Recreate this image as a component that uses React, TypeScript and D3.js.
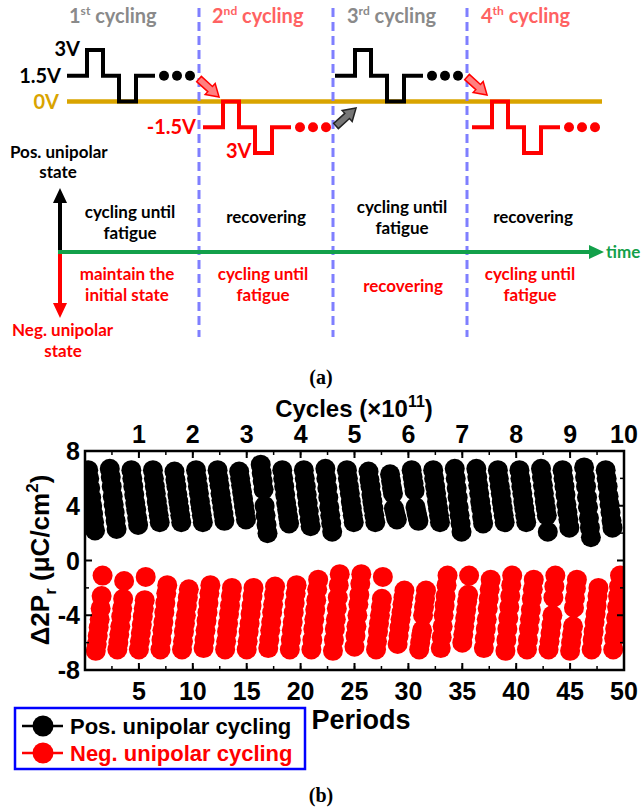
import React from 'react';
import * as d3 from 'd3';

// ---- chart (b) data ----
const periodTicks = [5, 10, 15, 20, 25, 30, 35, 40, 45, 50];
const cycleTicks = [1, 2, 3, 4, 5, 6, 7, 8, 9, 10];
const yTicks = [8, 4, 0, -4, -8];

// pos. unipolar cycling happens in odd periods, neg. in even periods
const posPeriods = [1, 3, 5, 7, 9, 11, 13, 15, 17, 19, 21, 23, 25, 27, 29, 31, 33, 35, 37, 39, 41, 43, 45, 47, 49];
const negPeriods = [2, 4, 6, 8, 10, 12, 14, 16, 18, 20, 22, 24, 26, 28, 30, 32, 34, 36, 38, 40, 42, 44, 46, 48, 50];

// where inside the period each measurement sits (fraction of a period)
const posOffsets = [0.3, 0.39, 0.48, 0.57, 0.66, 0.75, 0.84, 0.93];
const negOffsets = [-1.0, -0.91, -0.82, -0.73, -0.64, -0.55, -0.46, -0.37];

// top -> bottom (fatigue)
const posValues = [
  [6.6, 6.0, 5.3, 4.6, 4.0, 3.4, 2.8, 2.2],
  [6.7, 6.1, 5.4, 4.7, 4.1, 3.5, 2.9, 2.3],
  [6.6, 6.0, 5.4, 4.8, 4.2, 3.7, 3.1, 2.6],
  [6.6, 6.0, 5.4, 4.9, 4.3, 3.8, 3.3, 2.8],
  [6.5, 5.9, 5.4, 4.8, 4.3, 3.8, 3.3, 2.8],
  [6.6, 6.0, 5.4, 4.9, 4.3, 3.8, 3.3, 2.8],
  [6.6, 6.0, 5.5, 4.9, 4.4, 3.9, 3.4, 2.9],
  [6.5, 6.0, 5.5, 5.0, 4.5, 4.0, 3.5, 3.0],
  [7.0, 6.4, 5.8, 5.2, 4.0, 3.3, 2.6, 2.0],
  [6.6, 6.0, 5.4, 4.8, 4.2, 3.7, 3.2, 2.7],
  [6.6, 6.0, 5.4, 4.8, 4.2, 3.6, 3.0, 2.5],
  [6.7, 6.0, 5.3, 4.6, 3.9, 3.3, 2.7, 2.1],
  [6.6, 6.0, 5.4, 4.9, 4.3, 3.8, 3.3, 2.8],
  [6.5, 5.9, 5.4, 4.8, 4.3, 3.8, 3.3, 2.8],
  [6.3, 5.8, 5.3, 4.9, 3.8, 3.5, 3.2, 3.0],
  [6.6, 6.1, 5.6, 5.1, 3.9, 3.5, 3.2, 2.9],
  [6.6, 6.0, 5.4, 4.9, 4.3, 3.8, 3.3, 2.8],
  [6.7, 6.0, 5.3, 4.6, 3.9, 3.3, 2.7, 2.1],
  [6.7, 6.1, 5.5, 4.9, 4.3, 3.8, 3.2, 2.7],
  [6.6, 6.0, 5.4, 4.9, 4.3, 3.8, 3.3, 2.8],
  [6.6, 6.0, 5.4, 4.9, 4.3, 3.8, 3.3, 2.8],
  [6.7, 6.1, 5.5, 4.9, 4.3, 3.8, 3.3, 2.1],
  [6.6, 6.0, 5.4, 4.8, 4.1, 3.5, 3.0, 2.4],
  [6.8, 6.1, 5.4, 4.6, 3.9, 3.1, 2.4, 1.7],
  [6.6, 6.0, 5.4, 4.7, 4.1, 3.5, 2.9, 2.4],
];

// bottom -> top (fatigue)
const negValues = [
  [-6.6, -6.1, -5.5, -4.9, -4.3, -3.5, -2.6, -1.1],
  [-6.5, -6.0, -5.4, -4.8, -4.1, -3.5, -2.8, -1.5],
  [-6.5, -5.9, -5.3, -4.7, -4.1, -3.5, -2.9, -1.2],
  [-6.5, -5.8, -5.1, -4.5, -3.8, -3.1, -2.4, -1.8],
  [-6.5, -5.9, -5.2, -4.6, -4.0, -3.3, -2.7, -2.1],
  [-6.4, -5.8, -5.1, -4.4, -3.8, -3.1, -2.4, -1.8],
  [-6.5, -5.9, -5.2, -4.6, -3.9, -3.3, -2.6, -2.0],
  [-6.5, -5.9, -5.2, -4.6, -3.9, -3.3, -2.6, -2.0],
  [-6.4, -5.8, -5.1, -4.5, -3.8, -3.2, -2.5, -1.9],
  [-6.5, -5.8, -5.1, -4.5, -3.8, -3.1, -2.4, -1.8],
  [-6.5, -5.8, -5.0, -4.3, -3.6, -2.9, -2.1, -1.4],
  [-6.6, -5.8, -5.0, -4.3, -3.5, -2.7, -1.8, -1.0],
  [-6.3, -5.5, -4.8, -4.0, -3.2, -2.5, -1.7, -1.0],
  [-6.5, -5.9, -5.2, -4.6, -4.0, -3.4, -2.8, -1.2],
  [-6.1, -5.5, -4.9, -4.3, -3.8, -3.2, -2.7, -2.2],
  [-6.5, -6.0, -5.5, -5.1, -4.0, -3.4, -2.8, -2.2],
  [-6.4, -5.6, -4.8, -4.0, -3.3, -2.6, -1.8, -1.1],
  [-6.0, -5.4, -4.8, -4.2, -3.6, -3.0, -2.5, -1.1],
  [-6.4, -5.7, -5.0, -4.3, -3.5, -2.8, -2.1, -1.4],
  [-6.6, -5.8, -5.0, -4.2, -3.4, -2.6, -1.8, -1.1],
  [-6.5, -5.8, -5.0, -4.3, -3.6, -2.8, -2.1, -1.4],
  [-6.5, -5.9, -5.3, -4.7, -4.0, -2.7, -1.9, -1.1],
  [-6.6, -6.0, -5.4, -4.8, -3.45, -2.75, -2.05, -1.4],
  [-6.5, -5.8, -5.2, -4.5, -3.9, -3.3, -2.6, -2.0],
  [-6.5, -5.7, -5.0, -4.2, -3.4, -2.6, -1.9, -1.1],
];

// ---- schematic (a) data ----
const posLevels = [1.5, 3, 1.5, 0, 1.5];
const negLevels = [-1.5, 0, -1.5, -3, -1.5];
const stepWidths = [20, 16, 16, 17, 19];

const ARIAL = "'Liberation Sans', Arial, sans-serif";
const CAL = "Lato, 'Open Sans', sans-serif";
const SERIF = "'Liberation Serif', 'Times New Roman', serif";

const x = d3.scaleLinear().domain([0, 50]).range([85, 624]);
const xc = d3.scaleLinear().domain([0, 10]).range([85, 624]);
const y = d3.scaleLinear().domain([-8, 8]).range([670, 451]);
const vY = d3.scaleLinear().domain([-3, 3]).range([153, 50]);

const stepLine = d3.line<[number, number]>().curve(d3.curveStepAfter);

function wavePath(x0: number, levels: number[]) {
  const pts: [number, number][] = [];
  let cx = x0;
  levels.forEach((l, i) => {
    pts.push([cx, vY(l)]);
    cx += stepWidths[i];
  });
  pts.push([cx, vY(levels[levels.length - 1])]);
  return stepLine(pts) || '';
}

const arrowShape = '0,-3.5 15,-3.5 15,-7.5 27,0 15,7.5 15,3.5 0,3.5';

function BlockArrow({ x0, y0, angle, fill, stroke }: any) {
  return (
    <polygon points={arrowShape} transform={`translate(${x0},${y0}) rotate(${angle})`}
      fill={fill} stroke={stroke} strokeWidth={1.5} strokeLinejoin="miter" />
  );
}

function Wave({ x0, levels, color }: any) {
  return (
    <g>
      <path d={wavePath(x0, levels)} fill="none" stroke={color} strokeWidth={4} />
      {[97, 110, 123].map((d) => (
        <circle key={d} cx={x0 + d} cy={vY(levels[0])} r={5} fill={color} />
      ))}
    </g>
  );
}

function Title({ x0, num, sup, color }: any) {
  return (
    <text x={x0} y={23} fill={color} fontFamily={CAL} fontWeight={700} fontSize={20}>
      {num}
      <tspan fontSize={12} dy={-8}>{sup}</tspan>
      <tspan dy={8}> cycling</tspan>
    </text>
  );
}

function Label({ cx, cy, lines, color }: any) {
  return (
    <text x={cx} y={cy} fill={color} fontFamily={CAL} fontWeight={700} fontSize={17} textAnchor="middle">
      {lines.map((l: string, i: number) => (
        <tspan key={i} x={cx} dy={i === 0 ? 0 : 21}>{l}</tspan>
      ))}
    </text>
  );
}

export default function App() {
  const minorX = d3.range(0, 50.01, 2.5);
  const minorY = [6, 2, -2, -6];
  const pts: { px: number; py: number; c: string }[] = [];
  posValues.forEach((col, k) =>
    col.forEach((v, j) => pts.push({ px: x(posPeriods[k] - 1 + posOffsets[j]), py: y(v), c: '#000' })));
  negValues.forEach((col, k) =>
    col.forEach((v, j) => pts.push({ px: x(negPeriods[k] + negOffsets[j]), py: y(v), c: '#ff0000' })));

  const L = 85, R = 624, T = 451, B = 670;
  const gold = '#d9a400';
  const dashBlue = '#7f7fff';
  const green = '#12a04a';
  const lightRed = '#ff6262';
  const gray = '#8a8a8a';

  return (
    <svg width={643} height={812} style={{ position: 'absolute', left: 0, top: 0, background: '#fff' }}>
      {/* ---------- (a) schematic ---------- */}
      <Title x0={69} num="1" sup="st" color={gray} />
      <Title x0={212} num="2" sup="nd" color={lightRed} />
      <Title x0={347} num="3" sup="rd" color={gray} />
      <Title x0={481} num="4" sup="th" color={lightRed} />

      <line x1={67} x2={602} y1={vY(0)} y2={vY(0)} stroke={gold} strokeWidth={4.5} />
      {[199, 333, 467].map((dx) => (
        <line key={dx} x1={dx} x2={dx} y1={8} y2={337} stroke={dashBlue} strokeWidth={3} strokeDasharray="9,5" />
      ))}

      <Wave x0={67} levels={posLevels} color="#000" />
      <Wave x0={203} levels={negLevels} color="#ff0000" />
      <Wave x0={335} levels={posLevels} color="#000" />
      <Wave x0={472} levels={negLevels} color="#ff0000" />

      <text x={80} y={vY(3) + 6} textAnchor="end" fontFamily={CAL} fontWeight={700} fontSize={20}>3V</text>
      <text x={61} y={vY(1.5) + 7} textAnchor="end" fontFamily={CAL} fontWeight={700} fontSize={20}>1.5V</text>
      <text x={59} y={vY(0) + 7} textAnchor="end" fontFamily={CAL} fontWeight={700} fontSize={20} fill={gold}>0V</text>
      <text x={196} y={vY(-1.5) + 7} textAnchor="end" fontFamily={CAL} fontWeight={700} fontSize={20} fill="#ff0000">-1.5V</text>
      <text x={226} y={vY(-3) + 5} fontFamily={CAL} fontWeight={700} fontSize={20} fill="#ff0000">3V</text>

      <BlockArrow x0={199} y0={79} angle={42} fill="#ff8080" stroke="#ff0000" />
      <BlockArrow x0={467} y0={77} angle={42} fill="#ff8080" stroke="#ff0000" />
      <BlockArrow x0={336} y0={126} angle={-42} fill="#767676" stroke="#222" />

      <text x={10} y={158} fontFamily={CAL} fontWeight={700} fontSize={17}>Pos. unipolar</text>
      <text x={58} y={178} textAnchor="middle" fontFamily={CAL} fontWeight={700} fontSize={17}>state</text>
      <text x={12} y={336} fontFamily={CAL} fontWeight={700} fontSize={17} fill="#ff0000">Neg. unipolar</text>
      <text x={63} y={357} textAnchor="middle" fontFamily={CAL} fontWeight={700} fontSize={17} fill="#ff0000">state</text>

      <line x1={60} x2={60} y1={252} y2={202} stroke="#000" strokeWidth={4} />
      <polygon points="53,203 67,203 60,188" fill="#000" />
      <line x1={60} x2={60} y1={252} y2={304} stroke="#ff0000" strokeWidth={4} />
      <polygon points="53,303 67,303 60,318" fill="#ff0000" />
      <line x1={58} x2={591} y1={252} y2={252} stroke={green} strokeWidth={4} />
      <polygon points="589,245 589,259 604,252" fill={green} />
      <text x={606} y={258} fontFamily={CAL} fontWeight={700} fontSize={17} fill={green}>time</text>

      <Label cx={130} cy={218} lines={['cycling until', 'fatigue']} color="#000" />
      <Label cx={266} cy={223} lines={['recovering']} color="#000" />
      <Label cx={402} cy={213} lines={['cycling until', 'fatigue']} color="#000" />
      <Label cx={533} cy={223} lines={['recovering']} color="#000" />
      <Label cx={127} cy={280} lines={['maintain the', 'initial state']} color="#ff0000" />
      <Label cx={263} cy={280} lines={['cycling until', 'fatigue']} color="#ff0000" />
      <Label cx={403} cy={292} lines={['recovering']} color="#ff0000" />
      <Label cx={530} cy={280} lines={['cycling until', 'fatigue']} color="#ff0000" />

      <text x={321} y={384} textAnchor="middle" fontFamily={SERIF} fontWeight={700} fontSize={20}>(a)</text>

      {/* ---------- (b) chart ---------- */}
      <defs>
        <clipPath id="plot"><rect x={L} y={T} width={R - L} height={B - T} /></clipPath>
      </defs>
      <g clipPath="url(#plot)">
        {pts.map((p, i) => <circle key={i} cx={p.px} cy={p.py} r={10} fill={p.c} />)}
      </g>

      <rect x={L} y={T} width={R - L} height={B - T} fill="none" stroke="#000" strokeWidth={2.5} />
      {periodTicks.map((t) => (
        <g key={t}>
          <line x1={x(t)} x2={x(t)} y1={B} y2={B - 7} stroke="#000" strokeWidth={2} />
          <text x={x(t)} y={B + 30} textAnchor="middle" fontFamily={ARIAL} fontWeight={700} fontSize={25}>{t}</text>
        </g>
      ))}
      {cycleTicks.map((t) => (
        <g key={t}>
          <line x1={xc(t)} x2={xc(t)} y1={T} y2={T + 7} stroke="#000" strokeWidth={2} />
          <text x={xc(t)} y={T - 8} textAnchor="middle" fontFamily={ARIAL} fontWeight={700} fontSize={25}>{t}</text>
        </g>
      ))}
      {minorX.map((t) => (
        <g key={t}>
          <line x1={x(t)} x2={x(t)} y1={B} y2={B - 4} stroke="#000" strokeWidth={1.5} />
          <line x1={x(t)} x2={x(t)} y1={T} y2={T + 4} stroke="#000" strokeWidth={1.5} />
        </g>
      ))}
      {yTicks.map((t) => (
        <g key={t}>
          <line x1={L} x2={L + 7} y1={y(t)} y2={y(t)} stroke="#000" strokeWidth={2} />
          <line x1={R} x2={R - 7} y1={y(t)} y2={y(t)} stroke="#000" strokeWidth={2} />
          <text x={80} y={y(t) + 9} textAnchor="end" fontFamily={ARIAL} fontWeight={700} fontSize={25}>{t}</text>
        </g>
      ))}
      {minorY.map((t) => (
        <g key={t}>
          <line x1={L} x2={L + 4} y1={y(t)} y2={y(t)} stroke="#000" strokeWidth={1.5} />
          <line x1={R} x2={R - 4} y1={y(t)} y2={y(t)} stroke="#000" strokeWidth={1.5} />
        </g>
      ))}

      <text x={354} y={417} textAnchor="middle" fontFamily={ARIAL} fontWeight={700} fontSize={24}>
        Cycles (×10<tspan fontSize={16} dy={-10}>11</tspan><tspan dy={10}>)</tspan>
      </text>
      <text x={361} y={729} textAnchor="middle" fontFamily={ARIAL} fontWeight={700} fontSize={27}>Periods</text>
      <text transform="translate(49,560) rotate(-90)" textAnchor="middle" fontFamily={ARIAL} fontWeight={700} fontSize={26}>
        Δ2P<tspan fontSize={17} dy={7}>r</tspan><tspan dy={-7}> (μC/cm</tspan><tspan fontSize={17} dy={-11}>2</tspan><tspan dy={11}>)</tspan>
      </text>

      <rect x={15} y={708} width={290} height={61} fill="#fff" stroke="#0000ff" strokeWidth={2.5} />
      <line x1={22} x2={63} y1={726} y2={726} stroke="#000" strokeWidth={2.5} />
      <circle cx={43} cy={726} r={10.5} fill="#000" />
      <text x={70} y={734} fontFamily={ARIAL} fontWeight={700} fontSize={22}>Pos. unipolar cycling</text>
      <line x1={22} x2={63} y1={753} y2={753} stroke="#ff0000" strokeWidth={2.5} />
      <circle cx={43} cy={753} r={10.5} fill="#ff0000" />
      <text x={70} y={761} fontFamily={ARIAL} fontWeight={700} fontSize={22} fill="#ff0000">Neg. unipolar cycling</text>

      <text x={321} y={802} textAnchor="middle" fontFamily={SERIF} fontWeight={700} fontSize={20}>(b)</text>
    </svg>
  );
}
